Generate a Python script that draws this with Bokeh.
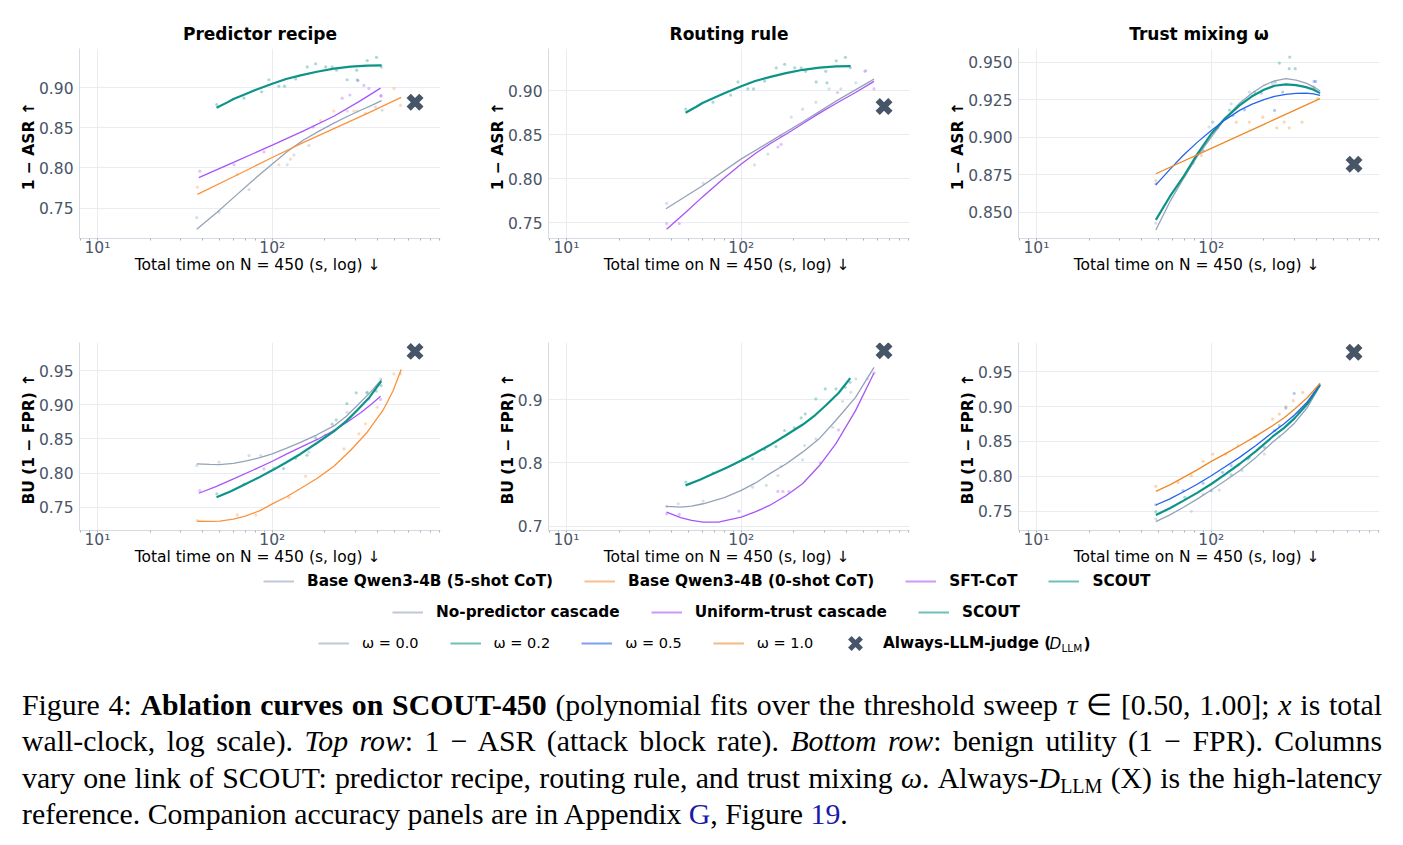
import numpy as np
from bokeh.plotting import figure
from bokeh.models import Range1d, FixedTicker, NumeralTickFormatter, Legend, LegendItem, Label, Div
from bokeh.layouts import column, row
from bokeh.embed import file_html
from bokeh.resources import INLINE

FONT = "DejaVu Sans"

# ------------------------------------------------------------------ data
col_titles = ["Predictor recipe", "Routing rule", "Trust mixing ω"]
asr_label = "1 − ASR  ↑"
bu_label = "BU (1 − FPR)  ↑"
x_label = "Total time on N = 450 (s, log)  ↓"
x_major = [10, 100]
x_major_labels = {10: "10¹", 100: "10²"}
x_minor = [8, 9, 20, 30, 40, 50, 60, 70, 80, 90, 200, 300, 400, 500, 600, 700, 800, 900]
x_span = (7.9, 916)

llm_time = [655]
llm_asr = [0.882]
llm_bu = [0.978]

# SCOUT (shared by predictor-recipe and routing-rule columns)
scout_asr_x = [48, 55, 60, 70, 80, 100, 120, 145, 180, 225, 280, 349, 422]
scout_asr_y = [0.875, 0.8815, 0.886, 0.892, 0.8972, 0.905, 0.911, 0.9155, 0.920, 0.9238, 0.9263, 0.9277, 0.928]
scout_asr_pts_x = [48.1, 68.9, 86.9, 95.7, 109, 117.5, 136, 158.5, 177, 202, 220, 233, 268, 304, 309, 349, 394, 420]
scout_asr_pts_y = [0.879, 0.887, 0.895, 0.910, 0.902, 0.902, 0.911, 0.926, 0.930, 0.926, 0.926, 0.922, 0.910, 0.922, 0.909, 0.934, 0.938, 0.926]
scout_bu_x = [48, 58, 69, 83, 100, 120, 145, 180, 225, 265, 306, 360, 420]
scout_bu_y = [0.7645, 0.7735, 0.783, 0.793, 0.804, 0.8155, 0.828, 0.844, 0.861, 0.876, 0.892, 0.911, 0.9345]
scout_bu_pts_x = [48.2, 69, 102, 116, 136, 158, 177, 201, 220, 232, 267, 302, 348, 393, 419]
scout_bu_pts_y = [0.7697, 0.7839, 0.8066, 0.8066, 0.8214, 0.8261, 0.8515, 0.8557, 0.8715, 0.8778, 0.9016, 0.9174, 0.9174, 0.920, 0.928]

# Predictor recipe - ASR
pr_5shot_asr_x = [37, 48, 60, 78, 100, 122, 150, 185, 225, 270, 320, 370, 422]
pr_5shot_asr_y = [0.7234, 0.744, 0.763, 0.785, 0.805, 0.8205, 0.8345, 0.846, 0.856, 0.8645, 0.872, 0.878, 0.884]
pr_0shot_asr_x = [37.3, 60, 100, 150, 225, 350, 546]
pr_0shot_asr_y = [0.767, 0.789, 0.813, 0.8315, 0.849, 0.868, 0.888]
pr_sft_asr_x = [38, 60, 100, 150, 225, 320, 416]
pr_sft_asr_y = [0.788, 0.807, 0.8285, 0.846, 0.8645, 0.884, 0.8996]
pr_5shot_asr_pts_x = [37.0, 49.6, 73.6, 121.8, 133, 162, 268, 306, 389, 425]
pr_5shot_asr_pts_y = [0.738, 0.745, 0.773, 0.804, 0.816, 0.828, 0.871, 0.871, 0.876, 0.872]
pr_0shot_asr_pts_x = [37.3, 63.1, 109, 127, 189, 225, 293, 341, 496, 541]
pr_0shot_asr_pts_y = [0.776, 0.792, 0.804, 0.811, 0.859, 0.871, 0.871, 0.868, 0.899, 0.878]
pr_sft_asr_pts_x = [38.5, 60.4, 89.6, 171.5, 251, 278, 306, 334, 357, 416, 420]
pr_sft_asr_pts_y = [0.796, 0.804, 0.820, 0.851, 0.887, 0.891, 0.910, 0.903, 0.899, 0.890, 0.890]

# Predictor recipe - BU
pr_5shot_bu_x = [37, 44, 50, 60, 70, 85, 100, 120, 145, 180, 225, 265, 306, 360, 422]
pr_5shot_bu_y = [0.8134, 0.8126, 0.8125, 0.8142, 0.8175, 0.8225, 0.828, 0.836, 0.845, 0.856, 0.869, 0.883, 0.8988, 0.917, 0.9368]
pr_0shot_bu_x = [37.3, 44, 50, 60, 70, 85, 100, 120, 145, 180, 225, 280, 349, 430, 490, 546]
pr_0shot_bu_y = [0.7295, 0.7293, 0.7298, 0.7325, 0.737, 0.745, 0.7549, 0.765, 0.7775, 0.792, 0.810, 0.833, 0.8598, 0.892, 0.920, 0.9515]
pr_sft_bu_x = [38, 48, 60, 78, 100, 122, 150, 185, 225, 270, 320, 370, 416]
pr_sft_bu_y = [0.7705, 0.7805, 0.7915, 0.8045, 0.8173, 0.8285, 0.8395, 0.8505, 0.8622, 0.875, 0.8882, 0.901, 0.9124]
pr_5shot_bu_pts_x = [37, 49.6, 73.6, 85.8, 162, 268, 349, 416]
pr_5shot_bu_pts_y = [0.811, 0.816, 0.8256, 0.8256, 0.8305, 0.889, 0.9183, 0.9378]
pr_0shot_bu_pts_x = [37.3, 63.1, 80.4, 124.5, 155, 257, 313, 341, 398, 496, 541]
pr_0shot_bu_pts_y = [0.7305, 0.7388, 0.7388, 0.7646, 0.7954, 0.8354, 0.8573, 0.872, 0.8963, 0.9451, 0.9451]
pr_sft_bu_pts_x = [38.5, 89.6, 225, 357, 416]
pr_sft_bu_pts_y = [0.7744, 0.806, 0.8622, 0.9085, 0.9076]

# Routing rule - ASR
rr_nopred_asr_x = [37.1, 60, 100, 150, 224, 350, 574]
rr_nopred_asr_y = [0.7659, 0.792, 0.8225, 0.8435, 0.8645, 0.8885, 0.9132]
rr_uniform_asr_x = [37.4, 48, 60, 78, 100, 122, 150, 185, 224, 280, 350, 450, 574]
rr_uniform_asr_y = [0.7424, 0.7615, 0.7793, 0.799, 0.8166, 0.8295, 0.8412, 0.852, 0.8624, 0.8745, 0.8857, 0.898, 0.9106]
rr_nopred_asr_pts_x = [37.4, 60.5, 119, 142, 193, 224, 267, 318, 371, 452, 515]
rr_nopred_asr_pts_y = [0.772, 0.795, 0.8157, 0.828, 0.870, 0.879, 0.887, 0.902, 0.902, 0.909, 0.923]
rr_uniform_asr_pts_x = [37.4, 44.2, 162, 169, 169, 355, 574, 510]
rr_uniform_asr_pts_y = [0.749, 0.749, 0.836, 0.839, 0.849, 0.898, 0.902, 0.922]

# Routing rule - BU
rr_nopred_bu_x = [37.1, 45, 52, 60.5, 80, 100, 120, 145, 180, 224, 280, 347, 450, 574]
rr_nopred_bu_y = [0.7311, 0.730, 0.7316, 0.7354, 0.745, 0.7565, 0.768, 0.7828, 0.7985, 0.8172, 0.839, 0.8673, 0.904, 0.9517]
rr_uniform_bu_x = [37.4, 45, 52, 60.5, 75, 100, 120, 145, 180, 224, 280, 347, 450, 574]
rr_uniform_bu_y = [0.7222, 0.7135, 0.709, 0.7063, 0.7065, 0.7142, 0.7225, 0.7327, 0.748, 0.767, 0.796, 0.8303, 0.883, 0.9427]
rr_nopred_bu_pts_x = [37.4, 43.6, 60.5, 116, 139, 162, 169, 224, 230, 267, 333, 379, 423, 452, 526]
rr_nopred_bu_pts_y = [0.7311, 0.7354, 0.7396, 0.7617, 0.7644, 0.7802, 0.7945, 0.805, 0.8277, 0.8383, 0.8567, 0.8979, 0.9121, 0.9332, 0.9332]
rr_uniform_bu_pts_x = [37.4, 44.2, 97, 162, 173, 187, 283, 360, 574]
rr_uniform_bu_pts_y = [0.7195, 0.7185, 0.7237, 0.7549, 0.7549, 0.7549, 0.8003, 0.8525, 0.9427]

# Trust mixing - ASR
tm_asr_x = [48.2, 58, 69, 83, 100, 120, 145, 170, 200, 230, 267, 305, 348, 385, 419]
tm_w00_asr_y = [0.8382, 0.857, 0.872, 0.887, 0.900, 0.9125, 0.9225, 0.929, 0.9345, 0.9375, 0.9389, 0.938, 0.936, 0.9335, 0.9307]
tm_w02_asr_y = [0.8449, 0.8605, 0.8733, 0.8885, 0.9022, 0.9125, 0.9211, 0.927, 0.9315, 0.9342, 0.9351, 0.9346, 0.9333, 0.9315, 0.9293]
tm_w05_asr_y = [0.8682, 0.8785, 0.8878, 0.8965, 0.9044, 0.9115, 0.9178, 0.9218, 0.925, 0.9271, 0.9284, 0.9291, 0.9293, 0.9288, 0.9278]
tm_w10_asr_x = [48.2, 100, 200, 419]
tm_w10_asr_y = [0.8756, 0.8925, 0.9085, 0.9256]
tm_w00_asr_pts_x = [48.2, 70.5, 97, 130, 165, 224, 387]
tm_w00_asr_pts_y = [0.8427, 0.8744, 0.9067, 0.9222, 0.930, 0.9356, 0.9333]
tm_w02_asr_pts_x = [78.7, 102, 127, 177, 232, 245, 279, 281, 302, 387]
tm_w02_asr_pts_y = [0.8827, 0.910, 0.918, 0.930, 0.9367, 0.9493, 0.9456, 0.9533, 0.9456, 0.9322]
tm_w05_asr_pts_x = [48.2, 89.8, 109, 133, 155, 193, 230, 256, 387, 395]
tm_w05_asr_pts_y = [0.8689, 0.8911, 0.9062, 0.9144, 0.9182, 0.9293, 0.9178, 0.930, 0.9371, 0.9371]
tm_w10_asr_pts_x = [48.2, 87.7, 139, 165, 197, 237, 261, 279, 330, 379, 405]
tm_w10_asr_pts_y = [0.8711, 0.8878, 0.910, 0.910, 0.9133, 0.9062, 0.910, 0.9062, 0.910, 0.9333, 0.9256]

# Trust mixing - BU
tm_bu_x = [48.2, 58, 69, 83, 100, 120, 145, 180, 224, 260, 300, 355, 419]
tm_w00_bu_y = [0.7347, 0.7445, 0.755, 0.767, 0.7801, 0.7935, 0.8079, 0.827, 0.8486, 0.862, 0.8765, 0.899, 0.9299]
tm_w02_bu_y = [0.7443, 0.754, 0.7646, 0.776, 0.7888, 0.8025, 0.8175, 0.836, 0.8567, 0.869, 0.8834, 0.904, 0.9313]
tm_w05_bu_y = [0.7586, 0.7675, 0.7773, 0.7885, 0.8007, 0.8135, 0.827, 0.844, 0.8629, 0.875, 0.8883, 0.907, 0.9323]
tm_w10_bu_y = [0.7782, 0.7875, 0.798, 0.809, 0.8213, 0.832, 0.8438, 0.8575, 0.8725, 0.8835, 0.8966, 0.913, 0.9337]
tm_w00_bu_pts_x = [48.2, 76.9, 89.8, 111, 150, 201, 245, 298]
tm_w00_bu_pts_y = [0.7385, 0.7495, 0.7744, 0.7801, 0.8079, 0.8318, 0.8567, 0.8844]
tm_w02_bu_pts_x = [48.2, 70.5, 100, 130, 162, 201, 245, 318]
tm_w02_bu_pts_y = [0.749, 0.7696, 0.7792, 0.8021, 0.8246, 0.8414, 0.8725, 0.8916]
tm_w05_bu_pts_x = [48.2, 69, 89.8, 116, 130, 165, 230, 267, 298]
tm_w05_bu_pts_y = [0.759, 0.7792, 0.7897, 0.8055, 0.8151, 0.827, 0.8653, 0.8978, 0.9189]
tm_w10_bu_pts_x = [48.2, 64.6, 76.9, 89.8, 102, 121, 142, 177, 224, 245, 267, 294, 333]
tm_w10_bu_pts_y = [0.7854, 0.7911, 0.8007, 0.8213, 0.8318, 0.8318, 0.8438, 0.8567, 0.882, 0.8892, 0.8998, 0.9084, 0.9203]

legend_row1 = ["Base Qwen3-4B (5-shot CoT)", "Base Qwen3-4B (0-shot CoT)", "SFT-CoT", "SCOUT"]
legend_row2 = ["No-predictor cascade", "Uniform-trust cascade", "SCOUT"]
legend_row3 = ["ω = 0.0", "ω = 0.2", "ω = 0.5", "ω = 1.0"]
legend_llm = "Always-LLM-judge ("

# ------------------------------------------------------------------ style
C_GRAY = "#94a3b8"
C_ORANGE = "#fb923c"
C_ORANGE2 = "#f08a24"
C_PURPLE = "#a855f7"
C_TEAL = "#0d9488"
C_BLUE = "#2563eb"
C_X = "#475569"
TICK_COLOR = "#4a5568"


def panel(width, title, ylabel, yr, yticks, yfmt, top):
    kw = dict(x_axis_type="log", x_range=Range1d(*x_span), y_range=Range1d(*yr),
              frame_width=361, frame_height=190 if top else 188,
              min_border_left=79, min_border_right=width - 79 - 361,
              min_border_top=48 if top else 42, min_border_bottom=62 if top else 40,
              output_backend="svg", toolbar_location=None)
    if title:
        kw["title"] = title
    p = figure(**kw)
    if title:
        p.title.align = "center"
        p.title.text_font = FONT
        p.title.text_font_size = "17px"
        p.title.text_font_style = "bold"
        p.title.text_color = "black"
    p.outline_line_color = None
    p.background_fill_color = "white"
    p.xaxis.ticker = FixedTicker(ticks=x_major, minor_ticks=x_minor)
    p.xaxis.major_label_overrides = x_major_labels
    p.yaxis.ticker = FixedTicker(ticks=yticks)
    p.yaxis.formatter = NumeralTickFormatter(format=yfmt)
    for ax in (p.xaxis[0], p.yaxis[0]):
        ax.axis_line_color = "#d5dbe3"
        ax.major_label_text_font = FONT
        ax.major_label_text_font_size = "15.5px"
        ax.major_label_text_color = TICK_COLOR
        ax.axis_label_text_font = FONT
        ax.axis_label_text_font_size = "15.5px"
        ax.axis_label_text_color = "black"
    p.xaxis.axis_label = x_label
    p.xaxis.axis_label_text_font_style = "normal"
    p.xaxis.major_tick_line_color = "#a9b1bc"
    p.xaxis.minor_tick_line_color = "#a9b1bc"
    p.xaxis.major_tick_out = 2
    p.xaxis.major_tick_in = 0
    p.xaxis.minor_tick_out = 2
    p.xaxis.minor_tick_in = 0
    p.xaxis.major_label_standoff = -2
    p.xaxis.axis_label_standoff = -4
    p.yaxis.axis_label = ylabel
    p.yaxis.axis_label_text_font_style = "bold"
    p.yaxis.major_tick_line_color = None
    p.yaxis.minor_tick_line_color = None
    p.yaxis.major_tick_out = 0
    p.yaxis.major_tick_in = 0
    p.yaxis.minor_tick_out = 0
    p.yaxis.minor_tick_in = 0
    p.yaxis.major_label_standoff = 6
    p.yaxis.axis_label_standoff = -2
    p.xgrid.grid_line_color = "#e9edf2"
    p.ygrid.grid_line_color = "#e9edf2"
    return p


def dots(p, xs, ys, color):
    p.scatter(xs, ys, size=3.2, color=color, alpha=0.35, line_width=0)


def curve(p, xs, ys, color, lw=1.3):
    p.line(xs, ys, line_color=color, line_width=lw)


def llm(p, ys):
    p.scatter(llm_time, ys, marker="x", size=18, line_width=6, color=C_X)


# ---- Top row
pA = panel(469, col_titles[0], asr_label, (0.712, 0.949), [0.75, 0.80, 0.85, 0.90], "0.00", True)
dots(pA, pr_5shot_asr_pts_x, pr_5shot_asr_pts_y, C_GRAY)
dots(pA, pr_0shot_asr_pts_x, pr_0shot_asr_pts_y, C_ORANGE)
dots(pA, pr_sft_asr_pts_x, pr_sft_asr_pts_y, C_PURPLE)
dots(pA, scout_asr_pts_x, scout_asr_pts_y, C_TEAL)
curve(pA, pr_5shot_asr_x, pr_5shot_asr_y, C_GRAY)
curve(pA, pr_0shot_asr_x, pr_0shot_asr_y, C_ORANGE)
curve(pA, pr_sft_asr_x, pr_sft_asr_y, C_PURPLE)
curve(pA, scout_asr_x, scout_asr_y, C_TEAL, 2.2)
llm(pA, llm_asr)

pB = panel(470, col_titles[1], asr_label, (0.732, 0.948), [0.75, 0.80, 0.85, 0.90], "0.00", True)
dots(pB, rr_nopred_asr_pts_x, rr_nopred_asr_pts_y, C_GRAY)
dots(pB, rr_uniform_asr_pts_x, rr_uniform_asr_pts_y, C_PURPLE)
dots(pB, scout_asr_pts_x, scout_asr_pts_y, C_TEAL)
curve(pB, rr_nopred_asr_x, rr_nopred_asr_y, C_GRAY)
curve(pB, rr_uniform_asr_x, rr_uniform_asr_y, C_PURPLE)
curve(pB, scout_asr_x, scout_asr_y, C_TEAL, 2.2)
llm(pB, llm_asr)

pC = panel(464, col_titles[2], asr_label, (0.8325, 0.959), [0.85, 0.875, 0.90, 0.925, 0.95], "0.000", True)
dots(pC, tm_w00_asr_pts_x, tm_w00_asr_pts_y, C_GRAY)
dots(pC, tm_w02_asr_pts_x, tm_w02_asr_pts_y, C_TEAL)
dots(pC, tm_w05_asr_pts_x, tm_w05_asr_pts_y, C_BLUE)
dots(pC, tm_w10_asr_pts_x, tm_w10_asr_pts_y, C_ORANGE2)
curve(pC, tm_asr_x, tm_w00_asr_y, C_GRAY)
curve(pC, tm_asr_x, tm_w02_asr_y, C_TEAL, 2.2)
curve(pC, tm_asr_x, tm_w05_asr_y, C_BLUE)
curve(pC, tm_w10_asr_x, tm_w10_asr_y, C_ORANGE2)
llm(pC, llm_asr)

# ---- Bottom row
pD = panel(469, None, bu_label, (0.716, 0.991), [0.75, 0.80, 0.85, 0.90, 0.95], "0.00", False)
dots(pD, pr_5shot_bu_pts_x, pr_5shot_bu_pts_y, C_GRAY)
dots(pD, pr_0shot_bu_pts_x, pr_0shot_bu_pts_y, C_ORANGE)
dots(pD, pr_sft_bu_pts_x, pr_sft_bu_pts_y, C_PURPLE)
dots(pD, scout_bu_pts_x, scout_bu_pts_y, C_TEAL)
curve(pD, pr_5shot_bu_x, pr_5shot_bu_y, C_GRAY)
curve(pD, pr_0shot_bu_x, pr_0shot_bu_y, C_ORANGE)
curve(pD, pr_sft_bu_x, pr_sft_bu_y, C_PURPLE)
curve(pD, scout_bu_x, scout_bu_y, C_TEAL, 2.2)
llm(pD, llm_bu)

pE = panel(470, None, bu_label, (0.693, 0.991), [0.7, 0.8, 0.9], "0.0", False)
dots(pE, rr_nopred_bu_pts_x, rr_nopred_bu_pts_y, C_GRAY)
dots(pE, rr_uniform_bu_pts_x, rr_uniform_bu_pts_y, C_PURPLE)
dots(pE, scout_bu_pts_x, scout_bu_pts_y, C_TEAL)
curve(pE, rr_nopred_bu_x, rr_nopred_bu_y, C_GRAY)
curve(pE, rr_uniform_bu_x, rr_uniform_bu_y, C_PURPLE)
curve(pE, scout_bu_x, scout_bu_y, C_TEAL, 2.2)
llm(pE, llm_bu)

pF = panel(464, None, bu_label, (0.722, 0.992), [0.75, 0.80, 0.85, 0.90, 0.95], "0.00", False)
dots(pF, tm_w00_bu_pts_x, tm_w00_bu_pts_y, C_GRAY)
dots(pF, tm_w02_bu_pts_x, tm_w02_bu_pts_y, C_TEAL)
dots(pF, tm_w05_bu_pts_x, tm_w05_bu_pts_y, C_BLUE)
dots(pF, tm_w10_bu_pts_x, tm_w10_bu_pts_y, C_ORANGE2)
curve(pF, tm_bu_x, tm_w00_bu_y, C_GRAY)
curve(pF, tm_bu_x, tm_w02_bu_y, C_TEAL, 2.2)
curve(pF, tm_bu_x, tm_w05_bu_y, C_BLUE)
curve(pF, tm_bu_x, tm_w10_bu_y, C_ORANGE2)
llm(pF, llm_bu)

# ---- Legend strip
LH = 92
lg = figure(x_range=Range1d(0, 1403), y_range=Range1d(LH, 0), frame_width=1403, frame_height=LH,
            min_border=0, x_axis_location=None, y_axis_location=None,
            output_backend="svg", toolbar_location=None)
lg.grid.visible = False
lg.outline_line_color = None

NO_DATA = np.array([np.nan])


def proxy(color):
    return lg.line(x=NO_DATA, y=NO_DATA, line_color=color, line_width=2, line_alpha=0.6)


def make_legend(labels, rends, loc, bold=True, size="15.3px"):
    return Legend(items=[LegendItem(label=l, renderers=[r]) for l, r in zip(labels, rends)],
                  location=loc, orientation="horizontal",
                  label_text_font=FONT, label_text_font_style="bold" if bold else "normal",
                  label_text_font_size=size, label_text_color="black",
                  glyph_width=31, glyph_height=20, label_height=20, label_standoff=13, spacing=31,
                  padding=0, margin=0, border_line_color=None, background_fill_alpha=0)


r1 = [proxy(C_GRAY), proxy(C_ORANGE), proxy(C_PURPLE), proxy(C_TEAL)]
r2 = [proxy(C_GRAY), proxy(C_PURPLE), proxy(C_TEAL)]
r3 = [proxy(C_GRAY), proxy(C_TEAL), proxy(C_BLUE), proxy(C_ORANGE2)]
rx = lg.scatter(x=NO_DATA, y=NO_DATA, marker="x", line_width=5, color=C_X)

lg.add_layout(make_legend(legend_row1, r1, (263, LH - 21)))
lg.add_layout(make_legend(legend_row2, r2, (392, LH - 52)))
lg.add_layout(make_legend(legend_row3, r3, (318, LH - 83), bold=False, size="14.5px"))
lg.add_layout(Legend(items=[LegendItem(label=legend_llm, renderers=[rx])], location=(835, LH - 93),
                     label_text_font=FONT, label_text_font_style="bold", label_text_font_size="15.3px",
                     label_text_color="black", glyph_width=40, glyph_height=40, label_height=40,
                     label_standoff=8, padding=0, margin=0, border_line_color=None,
                     background_fill_alpha=0))
lg.add_layout(Label(x=1049, y=73, text="D", text_font=FONT, text_font_style="italic",
                    text_font_size="15.3px", text_baseline="middle", text_color="black"))
lg.add_layout(Label(x=1061, y=77, text="LLM", text_font=FONT, text_font_size="10.5px",
                    text_baseline="middle", text_color="black"))
lg.add_layout(Label(x=1083, y=73, text=")", text_font=FONT, text_font_style="bold",
                    text_font_size="15.3px", text_baseline="middle", text_color="black"))

# ---- Caption
BLUE_LINK = "#1a1aa6"
cap_lines = [
    'Figure 4: <b>Ablation curves on SCOUT-450</b> (polynomial fits over the threshold sweep '
    '<i>τ</i> ∈ [0.50, 1.00]; <i>x</i> is total',
    'wall-clock, log scale). <i>Top row</i>: 1 − ASR (attack block rate). <i>Bottom row</i>: '
    'benign utility (1 − FPR). Columns',
    'vary one link of SCOUT: predictor recipe, routing rule, and trust mixing <i>ω</i>. '
    'Always-<i>D</i><sub style="font-size:20px;line-height:0;vertical-align:-5px">LLM</sub> '
    '(X) is the high-latency',
    'reference. Companion accuracy panels are in Appendix '
    f'<span style="color:{BLUE_LINK}">G</span>, Figure <span style="color:{BLUE_LINK}">19</span>.',
]
cap_html = "".join(
    f'<div style="text-align:justify;text-align-last:justify;white-space:nowrap;">{l}</div>'
    for l in cap_lines[:-1]) + f'<div style="white-space:nowrap;">{cap_lines[-1]}</div>'
caption = Div(text=(
    '<div style="font-family:\'Liberation Serif\',\'Times New Roman\',serif;font-size:29.8px;'
    'line-height:36.3px;color:#000;width:1360px;margin-left:17px;padding-top:20px;">'
    f'{cap_html}</div>'), width=1403, height=183)

layout = column(row(pA, pB, pC), row(pD, pE, pF), lg, caption)
open("out.html", "w").write(file_html(layout, INLINE))
